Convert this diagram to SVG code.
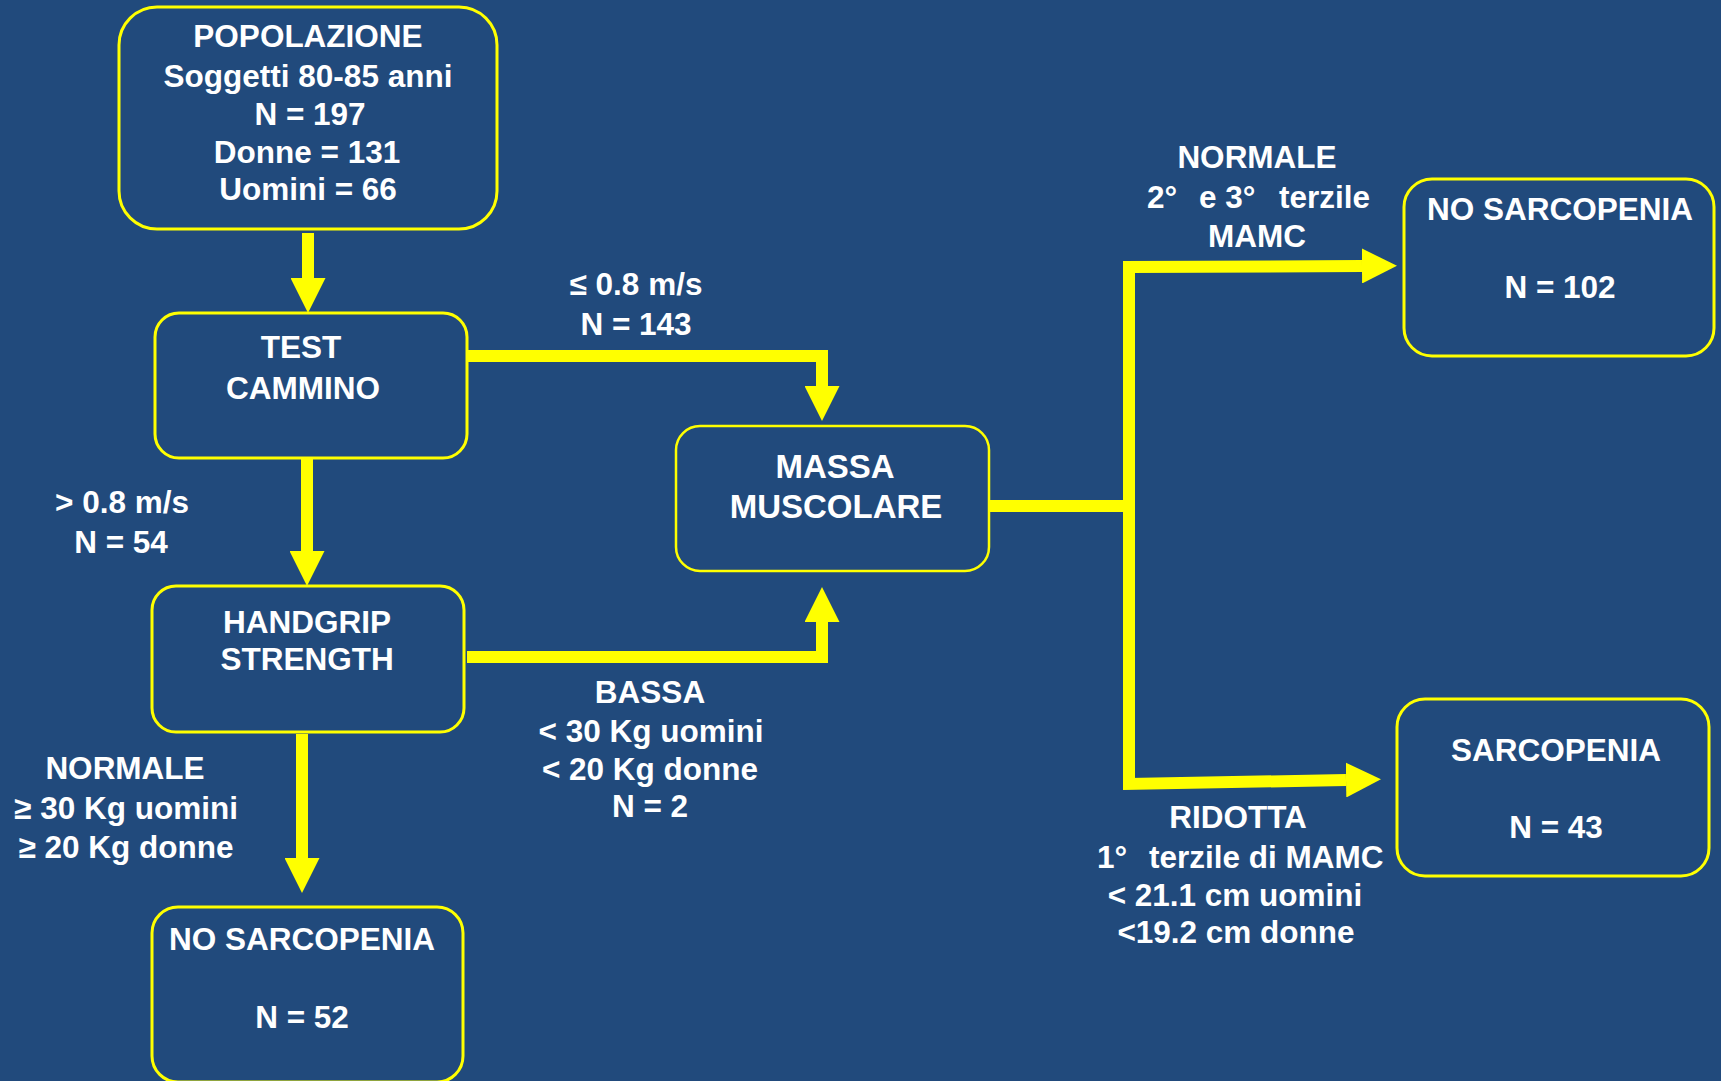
<svg xmlns="http://www.w3.org/2000/svg" width="1721" height="1081" viewBox="0 0 1721 1081">
<style>
  .box { fill: none; stroke: #FFFF00; stroke-width: 3; }
  .t { font-family: "Liberation Sans", Arial, sans-serif; font-weight: bold; font-size: 31.5px; fill: #FFFFFF; text-anchor: middle; }
  .s { text-anchor: start; }
  .big { font-size: 33px; }
  .c { fill: none; stroke: #FFFF00; stroke-width: 12; stroke-linejoin: miter; stroke-linecap: butt; }
</style>
<defs>
  <marker id="ah" viewBox="0 0 35 35" refX="0" refY="17.5" markerWidth="35" markerHeight="35" markerUnits="userSpaceOnUse" orient="auto">
    <path d="M0,0 L35,17.5 L0,35 Z" fill="#FFFF00"/>
  </marker>
</defs>
<rect x="0" y="0" width="1721" height="1081" fill="#214A7C"/>

<g id="connectors">
  <path class="c" d="M308,233 L308,278" marker-end="url(#ah)"/>
  <path class="c" d="M307,458 L307,551" marker-end="url(#ah)"/>
  <path class="c" d="M467,356 L822,356 L822,386" marker-end="url(#ah)"/>
  <path class="c" d="M467,657 L822,657 L822,622" marker-end="url(#ah)"/>
  <path class="c" d="M302,734 L302,858" marker-end="url(#ah)"/>
  <path class="c" d="M989,506 L1135,506"/>
  <path class="c" d="M1129,510 L1129,267 L1362,266" marker-end="url(#ah)"/>
  <path class="c" d="M1129,500 L1129,784 L1346,780" marker-end="url(#ah)"/>
</g>

<g id="popolazione">
  <rect class="box" x="119" y="7" width="378" height="222" rx="38" ry="38"/>
  <text class="t" x="308" y="47">POPOLAZIONE</text>
  <text class="t" x="308" y="87">Soggetti 80-85 anni</text>
  <text class="t" x="310" y="125">N = 197</text>
  <text class="t" x="307" y="163">Donne = 131</text>
  <text class="t" x="308" y="200">Uomini = 66</text>
</g>

<g id="test-cammino">
  <rect class="box" x="155" y="313" width="312" height="145" rx="24" ry="24"/>
  <text class="t" x="301" y="358">TEST</text>
  <text class="t" x="303" y="399">CAMMINO</text>
</g>

<g id="handgrip">
  <rect class="box" x="152" y="586" width="312" height="146" rx="24" ry="24"/>
  <text class="t" x="307" y="633">HANDGRIP</text>
  <text class="t" x="307" y="670">STRENGTH</text>
</g>

<g id="massa-muscolare">
  <rect class="box" x="676" y="426" width="313" height="145" rx="24" ry="24" style="stroke-width:2.5"/>
  <text class="t big" x="835" y="478">MASSA</text>
  <text class="t big" x="836" y="518">MUSCOLARE</text>
</g>

<g id="no-sarcopenia-52">
  <rect class="box" x="152" y="907" width="311" height="175" rx="26" ry="26"/>
  <text class="t" x="302" y="950">NO SARCOPENIA</text>
  <text class="t" x="302" y="1028">N = 52</text>
</g>

<g id="no-sarcopenia-102">
  <rect class="box" x="1404" y="179" width="310" height="177" rx="28" ry="28"/>
  <text class="t" x="1560" y="220">NO SARCOPENIA</text>
  <text class="t" x="1560" y="298">N = 102</text>
</g>

<g id="sarcopenia-43">
  <rect class="box" x="1397" y="699" width="312" height="177" rx="28" ry="28"/>
  <text class="t" x="1556" y="761">SARCOPENIA</text>
  <text class="t" x="1556" y="838">N = 43</text>
</g>

<g id="labels">
  <text class="t" x="636" y="295">≤ 0.8 m/s</text>
  <text class="t" x="636" y="335">N = 143</text>

  <text class="t" x="122" y="513">&gt; 0.8 m/s</text>
  <text class="t" x="121" y="553">N = 54</text>

  <text class="t" x="125" y="779">NORMALE</text>
  <text class="t" x="126" y="819">≥ 30 Kg uomini</text>
  <text class="t" x="126" y="858">≥ 20 Kg donne</text>

  <text class="t" x="650" y="703">BASSA</text>
  <text class="t" x="651" y="742">&lt; 30 Kg uomini</text>
  <text class="t" x="650" y="780">&lt; 20 Kg donne</text>
  <text class="t" x="650" y="817">N = 2</text>

  <text class="t" x="1257" y="168">NORMALE</text>
  <text class="t s" y="208"><tspan x="1147">2°</tspan><tspan x="1199">e 3°</tspan><tspan x="1279">terzile</tspan></text>
  <text class="t" x="1257" y="247">MAMC</text>

  <text class="t" x="1238" y="828">RIDOTTA</text>
  <text class="t s" y="868"><tspan x="1097">1°</tspan><tspan x="1149">terzile di MAMC</tspan></text>
  <text class="t" x="1235" y="906">&lt; 21.1 cm uomini</text>
  <text class="t" x="1236" y="943">&lt;19.2 cm donne</text>
</g>
</svg>
